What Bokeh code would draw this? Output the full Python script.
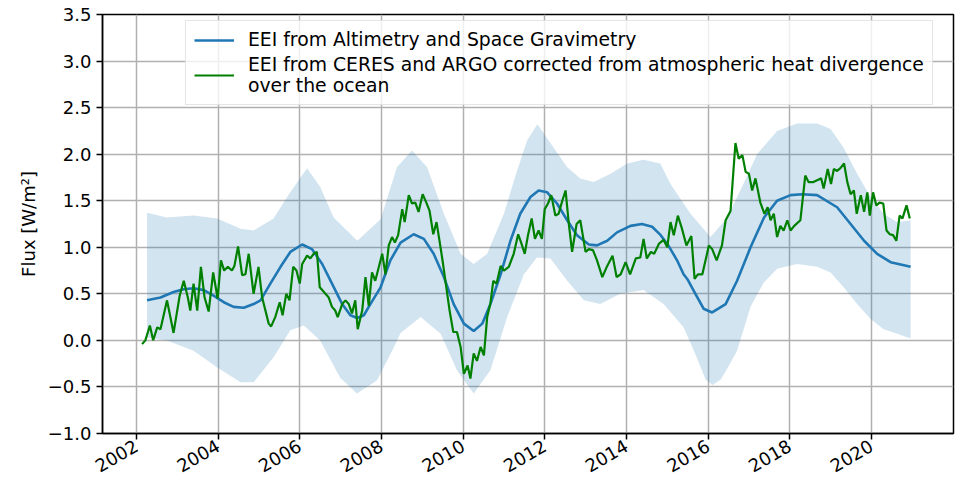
import math
from bokeh.plotting import figure
from bokeh.models import (FixedTicker, CustomJSTickFormatter, Legend, LegendItem, Range1d)
from bokeh.embed import file_html
from bokeh.resources import INLINE

# ---------------- data ----------------
x_ticks = [2002, 2004, 2006, 2008, 2010, 2012, 2014, 2016, 2018, 2020]
y_ticks = [-1.0, -0.5, 0.0, 0.5, 1.0, 1.5, 2.0, 2.5, 3.0, 3.5]

series_names = ["EEI from Altimetry and Space Gravimetry",
                "EEI from CERES and ARGO corrected from atmospheric heat divergence\nover the ocean"]
y_label = "Flux [W/m²]"

blue_x = [2002.26, 2002.59, 2002.91, 2003.16, 2003.40, 2003.65, 2003.89, 2004.14, 2004.38, 2004.63,
          2004.87, 2005.04, 2005.28, 2005.53, 2005.77, 2006.06, 2006.30, 2006.55, 2006.79, 2007.04,
          2007.24, 2007.41, 2007.57, 2007.73, 2007.98, 2008.22, 2008.47, 2008.79, 2009.04, 2009.28,
          2009.53, 2009.77, 2010.02, 2010.26, 2010.47, 2010.67, 2010.92, 2011.16, 2011.40, 2011.65,
          2011.85, 2012.06, 2012.30, 2012.55, 2012.79, 2013.08, 2013.28, 2013.53, 2013.77, 2014.10,
          2014.38, 2014.63, 2014.84, 2015.04, 2015.24, 2015.40, 2015.49, 2015.69, 2015.89, 2016.10,
          2016.43, 2016.71, 2017.04, 2017.37, 2017.69, 2018.02, 2018.30, 2018.67, 2019.16, 2019.49,
          2019.82, 2020.14, 2020.47, 2020.96]
blue_y = [0.43, 0.46, 0.52, 0.55, 0.56, 0.54, 0.48, 0.41, 0.36, 0.35,
          0.39, 0.43, 0.61, 0.79, 0.95, 1.03, 0.98, 0.82, 0.61, 0.39,
          0.27, 0.24, 0.27, 0.39, 0.57, 0.86, 1.05, 1.14, 1.09, 0.93,
          0.68, 0.39, 0.18, 0.10, 0.18, 0.39, 0.71, 1.07, 1.36, 1.54,
          1.61, 1.59, 1.47, 1.29, 1.13, 1.03, 1.02, 1.07, 1.16, 1.23,
          1.25, 1.22, 1.13, 1.01, 0.86, 0.71, 0.66, 0.50, 0.34, 0.30,
          0.39, 0.64, 1.00, 1.32, 1.50, 1.56, 1.57, 1.56, 1.43, 1.25,
          1.07, 0.93, 0.84, 0.79]

upper_x = [2002.26, 2002.75, 2003.40, 2003.98, 2004.55, 2004.87, 2005.36, 2005.69, 2006.02, 2006.18,
           2006.50, 2006.83, 2007.41, 2007.98, 2008.38, 2008.75, 2009.12, 2009.53, 2009.94, 2010.26,
           2010.59, 2011.00, 2011.32, 2011.57, 2011.82, 2012.22, 2012.55, 2012.87, 2013.20, 2013.61,
           2014.02, 2014.42, 2014.83, 2015.08, 2015.57, 2016.06, 2016.47, 2016.79, 2017.20, 2017.69,
           2018.18, 2018.67, 2019.00, 2019.32, 2019.65, 2019.98, 2020.30, 2020.63, 2020.96]
upper_y = [1.37, 1.32, 1.34, 1.31, 1.20, 1.18, 1.31, 1.54, 1.75, 1.85,
           1.65, 1.32, 1.07, 1.30, 1.86, 2.04, 1.86, 1.36, 0.93, 0.82,
           0.93, 1.36, 1.82, 2.15, 2.32, 2.07, 1.86, 1.74, 1.70, 1.79,
           1.90, 1.94, 1.90, 1.68, 1.36, 1.11, 1.32, 1.61, 2.00, 2.25,
           2.33, 2.33, 2.27, 2.07, 1.79, 1.54, 1.36, 1.27, 1.29]

lower_x = [2002.26, 2002.75, 2003.40, 2003.98, 2004.55, 2004.87, 2005.36, 2005.77, 2006.10, 2006.50,
           2006.99, 2007.40, 2007.89, 2008.30, 2008.47, 2008.96, 2009.45, 2009.85, 2010.26, 2010.67,
           2011.08, 2011.49, 2011.81, 2012.14, 2012.55, 2012.96, 2013.36, 2013.85, 2014.42, 2014.91,
           2015.40, 2015.69, 2015.94, 2016.11, 2016.31, 2016.50, 2016.71, 2017.04, 2017.36, 2017.69,
           2018.18, 2018.67, 2019.00, 2019.32, 2019.65, 2019.98, 2020.30, 2020.63, 2020.96]
lower_y = [0.03, 0.00, -0.11, -0.29, -0.45, -0.45, -0.18, 0.11, 0.16, 0.00,
           -0.40, -0.57, -0.43, -0.08, 0.08, 0.25, 0.07, -0.32, -0.57, -0.32,
           0.25, 0.71, 0.89, 0.88, 0.64, 0.43, 0.39, 0.50, 0.54, 0.39,
           0.14, -0.15, -0.42, -0.48, -0.42, -0.28, -0.11, 0.36, 0.62, 0.77,
           0.82, 0.79, 0.73, 0.57, 0.39, 0.23, 0.12, 0.07, 0.02]

green_x = [2002.14, 2002.22, 2002.33, 2002.41, 2002.51, 2002.59, 2002.75, 2002.91, 2003.06, 2003.16,
           2003.26, 2003.32, 2003.40, 2003.49, 2003.58, 2003.67, 2003.77, 2003.88, 2003.99, 2004.07,
           2004.15, 2004.24, 2004.34, 2004.40, 2004.49, 2004.59, 2004.67, 2004.75, 2004.87, 2004.99,
           2005.08, 2005.24, 2005.30, 2005.40, 2005.51, 2005.58, 2005.67, 2005.75, 2005.84, 2005.92,
           2006.00, 2006.06, 2006.18, 2006.26, 2006.34, 2006.42, 2006.49, 2006.63, 2006.71, 2006.79,
           2006.87, 2006.93, 2007.04, 2007.12, 2007.20, 2007.28, 2007.36, 2007.42, 2007.53, 2007.61,
           2007.69, 2007.77, 2007.85, 2008.02, 2008.10, 2008.18, 2008.26, 2008.33, 2008.41, 2008.51,
           2008.57, 2008.67, 2008.75, 2008.83, 2008.91, 2009.01, 2009.10, 2009.18, 2009.27, 2009.35,
           2009.43, 2009.51, 2009.59, 2009.67, 2009.76, 2009.85, 2009.94, 2010.02, 2010.11, 2010.18,
           2010.26, 2010.34, 2010.43, 2010.51, 2010.59, 2010.67, 2010.74, 2010.82, 2010.92, 2011.00,
           2011.12, 2011.24, 2011.35, 2011.43, 2011.51, 2011.59, 2011.68, 2011.76, 2011.85, 2011.93,
           2012.00, 2012.08, 2012.16, 2012.26, 2012.34, 2012.43, 2012.51, 2012.59, 2012.67, 2012.78,
           2012.87, 2013.00, 2013.08, 2013.18, 2013.28, 2013.41, 2013.53, 2013.66, 2013.76, 2013.86,
           2013.98, 2014.09, 2014.23, 2014.34, 2014.42, 2014.50, 2014.60, 2014.68, 2014.80, 2014.91,
           2015.00, 2015.08, 2015.16, 2015.26, 2015.36, 2015.47, 2015.59, 2015.67, 2015.75, 2015.86,
           2016.02, 2016.10, 2016.21, 2016.34, 2016.43, 2016.55, 2016.67, 2016.75, 2016.84, 2016.92,
           2017.00, 2017.08, 2017.16, 2017.28, 2017.38, 2017.46, 2017.53, 2017.61, 2017.69, 2017.77,
           2017.85, 2017.94, 2018.02, 2018.11, 2018.26, 2018.38, 2018.46, 2018.58, 2018.67, 2018.77,
           2018.83, 2018.93, 2019.01, 2019.08, 2019.16, 2019.24, 2019.33, 2019.41, 2019.49, 2019.57,
           2019.64, 2019.74, 2019.82, 2019.90, 2019.96, 2020.04, 2020.12, 2020.20, 2020.29, 2020.37,
           2020.45, 2020.53, 2020.61, 2020.69, 2020.76, 2020.86, 2020.94]
green_y = [-0.04, 0.00, 0.16, 0.00, 0.14, 0.12, 0.43, 0.08, 0.48, 0.64,
           0.46, 0.32, 0.61, 0.32, 0.79, 0.46, 0.31, 0.73, 0.45, 0.86,
           0.75, 0.79, 0.75, 0.80, 1.01, 0.70, 0.71, 0.93, 0.50, 0.79,
           0.46, 0.18, 0.15, 0.25, 0.41, 0.27, 0.50, 0.43, 0.79, 0.75,
           0.61, 0.82, 0.91, 0.88, 0.93, 0.95, 0.57, 0.50, 0.46, 0.36,
           0.32, 0.25, 0.39, 0.43, 0.39, 0.29, 0.43, 0.12, 0.32, 0.68,
           0.37, 0.73, 0.64, 0.93, 0.71, 1.02, 1.11, 1.05, 1.13, 1.41,
           1.27, 1.56, 1.47, 1.48, 1.38, 1.57, 1.48, 1.39, 1.14, 1.27,
           1.05, 0.82, 0.57, 0.32, 0.09, 0.09, -0.07, -0.36, -0.27, -0.41,
           -0.14, -0.22, -0.07, -0.16, 0.25, 0.40, 0.64, 0.61, 0.80, 0.75,
           0.79, 0.93, 1.14, 1.04, 0.93, 1.13, 1.31, 1.09, 1.18, 1.09,
           1.41, 1.47, 1.56, 1.34, 1.36, 1.50, 1.61, 1.25, 0.95, 1.25,
           1.29, 0.95, 0.98, 0.97, 0.86, 0.68, 0.80, 0.91, 0.68, 0.71,
           0.84, 0.71, 0.88, 0.89, 1.09, 0.88, 0.95, 0.93, 1.04, 1.08,
           1.00, 1.27, 1.13, 1.34, 1.20, 1.02, 1.12, 0.66, 0.71, 0.71,
           1.02, 0.98, 0.86, 1.02, 1.29, 1.39, 2.12, 1.95, 1.99, 1.81,
           1.79, 1.61, 1.74, 1.48, 1.36, 1.43, 1.29, 1.36, 1.11, 1.23,
           1.18, 1.29, 1.18, 1.23, 1.29, 1.77, 1.70, 1.70, 1.72, 1.74,
           1.63, 1.84, 1.68, 1.84, 1.82, 1.85, 1.90, 1.70, 1.57, 1.61,
           1.36, 1.56, 1.38, 1.59, 1.34, 1.59, 1.45, 1.48, 1.47, 1.18,
           1.14, 1.13, 1.07, 1.34, 1.31, 1.45, 1.31]

# ---------------- figure ----------------
FONT = "DejaVu Sans"
p = figure(width=955, height=484, output_backend="svg", toolbar_location=None,
           x_range=Range1d(2001.17, 2022.01), y_range=Range1d(-1.0, 3.5),
           min_border_left=102, min_border_right=2, min_border_top=14, min_border_bottom=51)
p.background_fill_color = "white"
p.border_fill_color = "white"
p.outline_line_color = "black"
p.outline_line_width = 1.5
p.outline_line_alpha = 1.0

band_x = upper_x + lower_x[::-1]
band_y = upper_y + lower_y[::-1]
p.patch(band_x, band_y, fill_color="#1f77b4", fill_alpha=0.2, line_color=None)
r_blue = p.line(blue_x, blue_y, line_color="#1f77b4", line_width=2.6)
r_green = p.line(green_x, green_y, line_color="#008000", line_width=2.2)

# axes
p.xaxis.ticker = FixedTicker(ticks=x_ticks)
p.yaxis.ticker = FixedTicker(ticks=y_ticks)
p.xaxis.formatter = CustomJSTickFormatter(code="return tick.toFixed(0);")
p.yaxis.formatter = CustomJSTickFormatter(
    code="return (tick < 0 ? '\\u2212' : '') + Math.abs(tick).toFixed(1);")
p.xaxis.major_label_orientation = math.pi / 6
for ax in (p.xaxis, p.yaxis):
    ax.axis_line_color = "black"
    ax.axis_line_width = 1.5
    ax.major_tick_line_color = "black"
    ax.major_tick_line_width = 1.5
    ax.major_tick_out = 6
    ax.major_tick_in = 0
    ax.minor_tick_line_color = None
    ax.major_label_text_font = FONT
    ax.major_label_text_font_size = "18px"
    ax.major_label_text_color = "black"
    ax.major_label_standoff = 5
p.yaxis.axis_label = y_label
p.yaxis.axis_label_text_font = FONT
p.yaxis.axis_label_text_font_size = "18px"
p.yaxis.axis_label_text_font_style = "normal"
p.yaxis.axis_label_text_color = "black"
p.yaxis.axis_label_standoff = 6

p.grid.grid_line_color = "#b0b0b0"
p.grid.grid_line_width = 1.5

legend = Legend(items=[LegendItem(label=series_names[0], renderers=[r_blue]),
                       LegendItem(label=series_names[1], renderers=[r_green])],
                location=(83, 328))
legend.label_text_font = FONT
legend.label_text_font_size = "18.8px"
legend.label_text_color = "black"
legend.glyph_width = 40
legend.label_standoff = 14
legend.padding = 8
legend.spacing = 4
legend.margin = 0
legend.border_line_color = "#cccccc"
legend.border_line_width = 1.5
legend.background_fill_alpha = 0.8
p.add_layout(legend)

open("out.html", "w").write(file_html(p, INLINE))
